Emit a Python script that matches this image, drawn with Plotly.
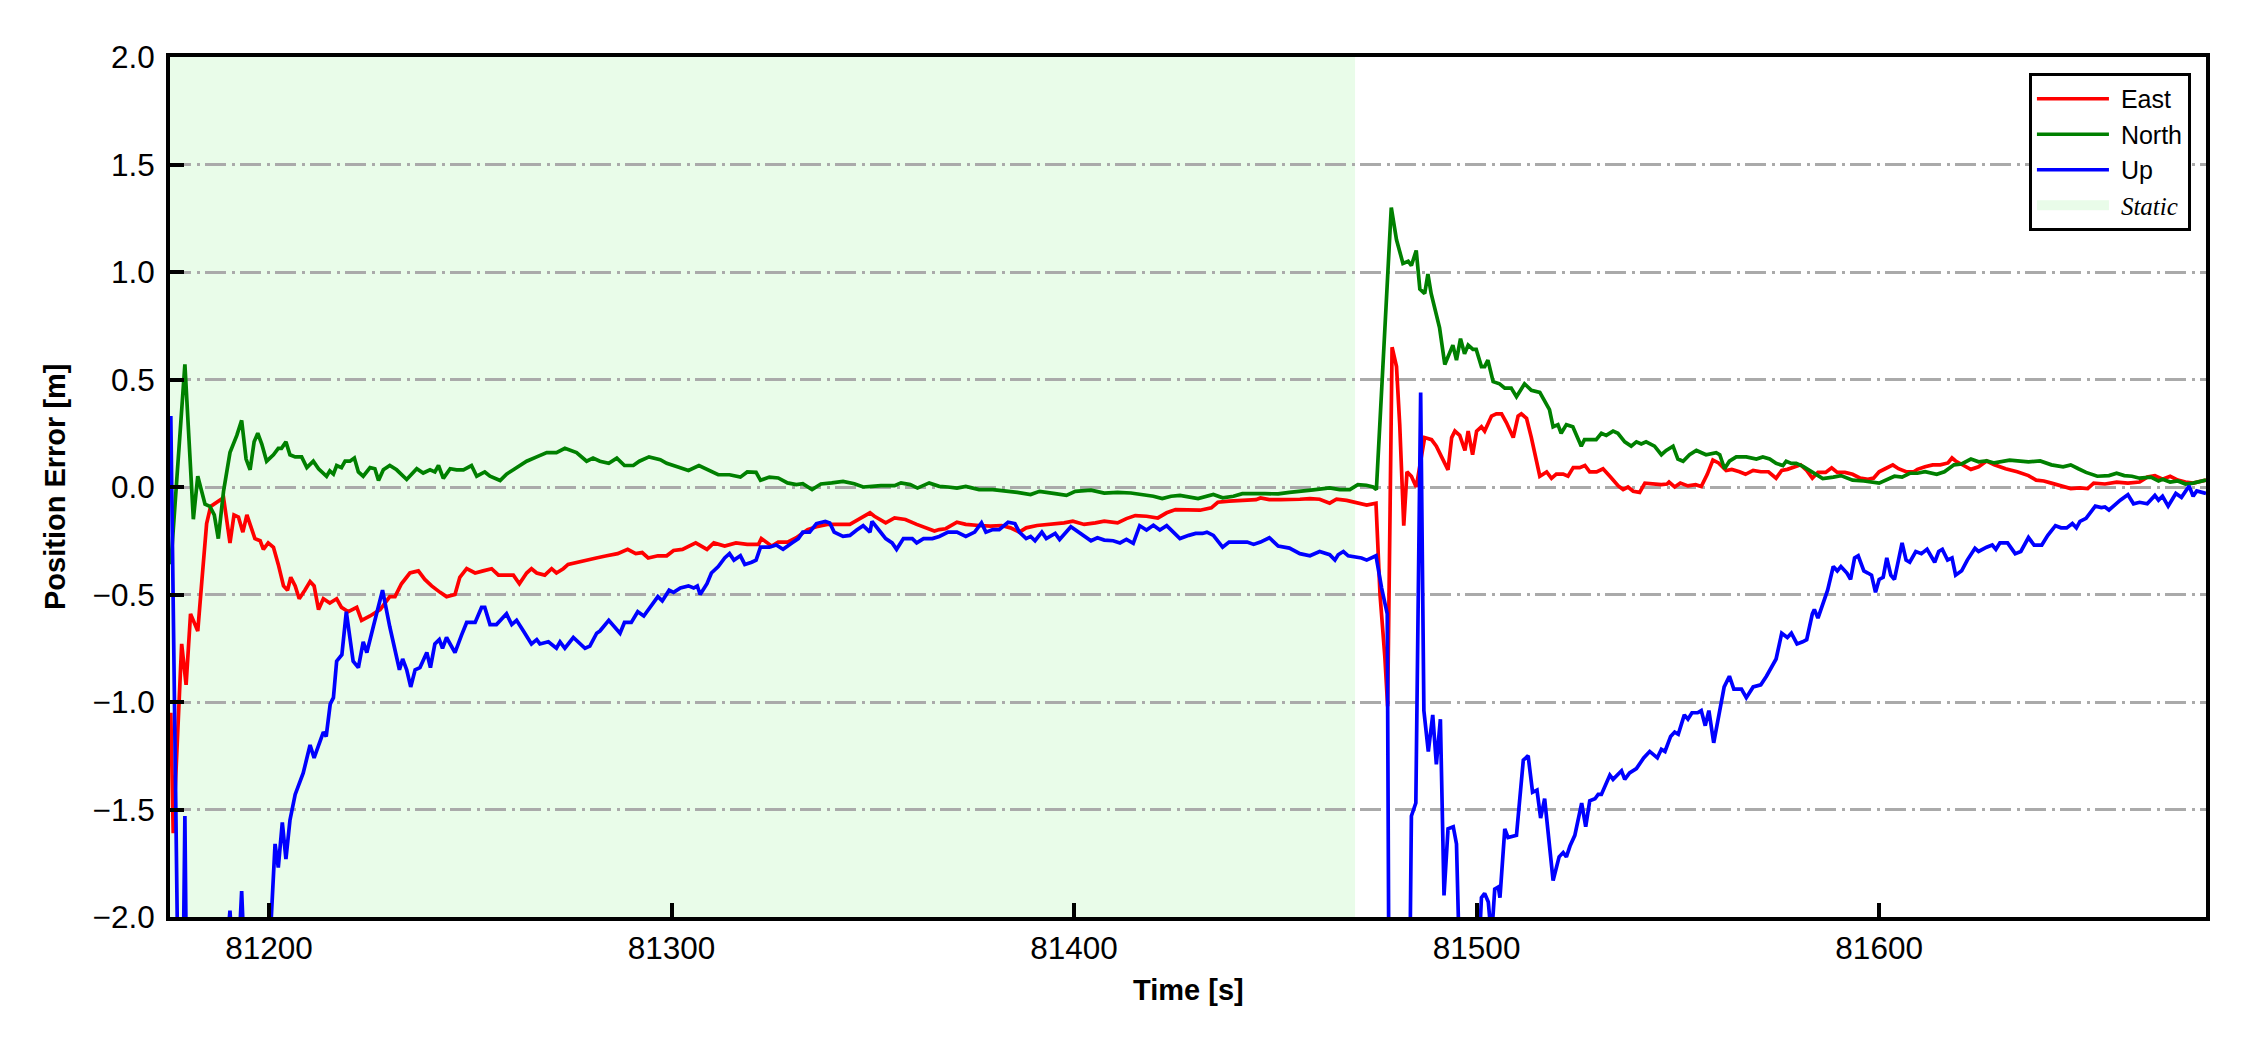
import plotly.graph_objects as go

# ---------------- data (time [s], error [m]) ----------------
EAST = [(81175.6,-1.05),(81176.2,-1.61),(81178.3,-0.73),(81179.4,-0.92),(81180.5,-0.59),(81182.3,-0.67),(81183.3,-0.44),(81184.5,-0.17),(81185.5,-0.09),(81187.0,-0.07),(81188.7,-0.05),(81190.3,-0.26),(81191.3,-0.13),(81192.4,-0.14),(81193.5,-0.21),(81194.5,-0.13),(81196.5,-0.24),(81197.8,-0.25),(81198.6,-0.29),(81199.8,-0.26),(81201.1,-0.28),(81202.3,-0.36),(81203.6,-0.46),(81204.6,-0.48),(81205.4,-0.42),(81206.5,-0.46),(81207.5,-0.52),(81208.9,-0.48),(81210.2,-0.44),(81211.2,-0.46),(81212.3,-0.57),(81213.5,-0.52),(81215.1,-0.54),(81216.8,-0.52),(81218.0,-0.56),(81219.7,-0.58),(81221.8,-0.56),(81223.0,-0.62),(81225.1,-0.60),(81227.6,-0.57),(81230.0,-0.51),(81231.3,-0.51),(81232.9,-0.45),(81235.0,-0.40),(81237.1,-0.39),(81238.7,-0.43),(81240.4,-0.46),(81242.5,-0.49),(81244.1,-0.51),(81246.2,-0.50),(81247.4,-0.42),(81249.1,-0.38),(81251.2,-0.40),(81253.2,-0.39),(81255.3,-0.38),(81257.0,-0.41),(81259.0,-0.41),(81260.7,-0.41),(81262.2,-0.45),(81264.0,-0.40),(81265.2,-0.38),(81266.5,-0.40),(81268.5,-0.41),(81270.2,-0.38),(81271.4,-0.40),(81273.1,-0.38),(81274.3,-0.36),(81276.4,-0.35),(81278.9,-0.34),(81281.3,-0.33),(81283.9,-0.32),(81286.6,-0.31),(81289.1,-0.29),(81291.1,-0.31),(81292.7,-0.305),(81294.2,-0.33),(81296.6,-0.32),(81298.8,-0.32),(81300.5,-0.295),(81302.7,-0.29),(81306.0,-0.26),(81308.8,-0.29),(81310.5,-0.26),(81313.2,-0.275),(81316.0,-0.26),(81318.8,-0.267),(81321.6,-0.267),(81322.3,-0.24),(81324.9,-0.275),(81326.5,-0.256),(81328.8,-0.256),(81331.0,-0.236),(81333.8,-0.198),(81336.0,-0.185),(81338.7,-0.174),(81342.1,-0.174),(81344.3,-0.174),(81347.1,-0.144),(81349.3,-0.12),(81350.4,-0.136),(81353.2,-0.167),(81355.4,-0.144),(81358.1,-0.151),(81360.9,-0.174),(81363.1,-0.19),(81365.3,-0.205),(81366.5,-0.198),(81368.1,-0.194),(81370.9,-0.164),(81373.1,-0.174),(81376.4,-0.179),(81379.2,-0.182),(81382.0,-0.179),(81384.2,-0.19),(81386.4,-0.21),(81388.1,-0.19),(81390.8,-0.179),(81394.2,-0.174),(81397.5,-0.167),(81399.7,-0.159),(81402.5,-0.174),(81405.3,-0.167),(81407.5,-0.159),(81410.8,-0.167),(81413.0,-0.147),(81415.2,-0.133),(81418.0,-0.136),(81420.8,-0.144),(81423.0,-0.12),(81425.2,-0.105),(81428.5,-0.108),(81431.3,-0.108),(81434.1,-0.097),(81435.7,-0.071),(81438.5,-0.066),(81441.8,-0.063),(81445.2,-0.059),(81446.3,-0.051),(81448.5,-0.059),(81451.3,-0.059),(81453.5,-0.059),(81456.1,-0.057),(81458.6,-0.054),(81461.0,-0.057),(81463.5,-0.075),(81465.2,-0.057),(81467.7,-0.062),(81470.2,-0.075),(81472.7,-0.084),(81475.0,-0.075),(81476.0,-0.50),(81477.2,-0.79),(81477.9,-1.02),(81479.0,0.65),(81480.1,0.56),(81480.9,0.29),(81481.9,-0.18),(81482.7,0.07),(81483.8,0.05),(81485.0,0.0),(81487.1,0.23),(81488.8,0.22),(81490.0,0.19),(81491.3,0.14),(81492.9,0.08),(81493.8,0.23),(81494.6,0.26),(81495.8,0.24),(81497.1,0.17),(81497.9,0.26),(81499.0,0.15),(81500.0,0.26),(81501.2,0.28),(81502.0,0.26),(81503.7,0.33),(81504.9,0.34),(81506.2,0.34),(81507.4,0.30),(81509.1,0.23),(81510.3,0.33),(81511.1,0.34),(81512.4,0.32),(81513.6,0.23),(81515.7,0.05),(81517.4,0.07),(81518.6,0.04),(81519.8,0.06),(81521.5,0.06),(81522.7,0.05),(81524.0,0.09),(81525.6,0.09),(81526.9,0.10),(81528.1,0.07),(81529.8,0.07),(81531.4,0.085),(81533.1,0.05),(81535.2,0.005),(81536.4,-0.012),(81537.6,0.0),(81538.9,-0.02),(81540.5,-0.025),(81541.8,0.018),(81544.4,0.011),(81545.9,0.011),(81547.3,0.014),(81547.8,0.023),(81549.2,0.0),(81550.6,0.018),(81552.5,0.005),(81554.4,0.011),(81555.8,0.002),(81557.3,0.059),(81558.7,0.125),(81560.1,0.112),(81562.0,0.077),(81563.4,0.082),(81565.3,0.071),(81566.8,0.059),(81568.7,0.077),(81570.6,0.071),(81572.5,0.071),(81574.4,0.041),(81575.8,0.077),(81577.2,0.082),(81579.1,0.094),(81580.5,0.103),(81582.0,0.077),(81583.4,0.041),(81584.8,0.068),(81586.7,0.068),(81588.2,0.089),(81589.6,0.068),(81591.5,0.068),(81593.4,0.059),(81595.3,0.041),(81597.2,0.036),(81598.6,0.041),(81600.0,0.071),(81601.5,0.085),(81603.4,0.103),(81604.8,0.085),(81606.7,0.071),(81608.6,0.071),(81609.5,0.082),(81611.4,0.094),(81613.3,0.103),(81615.2,0.103),(81617.1,0.112),(81618.1,0.135),(81619.0,0.121),(81621.0,0.10),(81622.8,0.082),(81624.7,0.094),(81626.7,0.121),(81628.6,0.103),(81631.4,0.085),(81634.3,0.071),(81637.1,0.053),(81639.0,0.032),(81640.9,0.028),(81642.8,0.018),(81645.2,0.005),(81647.6,-0.007),(81649.9,-0.004),(81651.8,-0.007),(81653.3,0.018),(81656.1,0.014),(81659.0,0.023),(81661.8,0.018),(81664.7,0.023),(81666.6,0.046),(81668.5,0.053),(81670.4,0.036),(81672.3,0.05),(81674.2,0.032),(81676.1,0.023),(81678.0,0.018),(81681.2,0.032)]

NORTH = [(81175.6,-0.36),(81179.1,0.57),(81181.2,-0.15),(81182.3,0.05),(81184.1,-0.08),(81185.3,-0.09),(81186.4,-0.13),(81187.4,-0.24),(81188.7,-0.02),(81190.3,0.16),(81192.0,0.24),(81193.2,0.31),(81194.3,0.13),(81195.3,0.08),(81196.3,0.21),(81197.2,0.25),(81198.2,0.20),(81199.4,0.12),(81201.1,0.15),(81202.3,0.18),(81203.1,0.18),(81204.2,0.21),(81205.2,0.15),(81206.5,0.14),(81208.1,0.14),(81209.4,0.09),(81211.0,0.12),(81212.3,0.085),(81214.3,0.05),(81215.1,0.075),(81216.0,0.06),(81216.8,0.10),(81218.0,0.09),(81218.9,0.12),(81220.1,0.12),(81221.2,0.135),(81222.2,0.07),(81223.4,0.05),(81225.1,0.09),(81226.3,0.085),(81227.2,0.03),(81228.4,0.08),(81230.0,0.10),(81231.7,0.08),(81234.2,0.035),(81236.7,0.085),(81238.3,0.065),(81240.0,0.08),(81241.2,0.07),(81242.1,0.10),(81243.3,0.04),(81245.0,0.085),(81246.6,0.08),(81248.3,0.08),(81250.3,0.10),(81251.6,0.05),(81253.6,0.07),(81254.9,0.05),(81257.4,0.03),(81259.0,0.06),(81260.7,0.08),(81262.3,0.10),(81264.0,0.12),(81266.5,0.14),(81269.0,0.16),(81271.4,0.16),(81273.5,0.18),(81276.4,0.16),(81278.9,0.12),(81280.5,0.135),(81282.2,0.12),(81284.4,0.11),(81286.4,0.134),(81288.3,0.10),(81290.5,0.10),(81292.0,0.12),(81294.4,0.14),(81297.2,0.127),(81298.8,0.11),(81301.6,0.093),(81304.2,0.077),(81306.8,0.10),(81308.8,0.083),(81311.6,0.057),(81314.4,0.057),(81317.1,0.046),(81318.8,0.07),(81321.0,0.068),(81322.1,0.031),(81324.3,0.046),(81326.5,0.042),(81328.8,0.019),(81331.0,0.011),(81332.6,0.015),(81334.9,-0.012),(81337.1,0.014),(81339.8,0.019),(81342.6,0.026),(81345.4,0.015),(81347.6,0.0),(81349.8,0.003),(81352.0,0.006),(81355.4,0.006),(81357.0,0.019),(81359.3,0.011),(81361.1,-0.005),(81364.0,0.019),(81366.5,0.003),(81368.7,0.0),(81370.9,-0.005),(81373.1,0.003),(81376.4,-0.012),(81379.8,-0.012),(81382.5,-0.017),(81385.9,-0.025),(81389.2,-0.035),(81391.4,-0.02),(81395.3,-0.031),(81398.1,-0.039),(81400.3,-0.02),(81404.2,-0.015),(81407.5,-0.028),(81410.8,-0.025),(81414.1,-0.028),(81417.5,-0.035),(81419.7,-0.043),(81421.9,-0.054),(81424.1,-0.043),(81426.3,-0.039),(81428.5,-0.048),(81430.8,-0.054),(81434.6,-0.035),(81436.9,-0.05),(81439.6,-0.043),(81441.8,-0.031),(81447.4,-0.031),(81450.7,-0.032),(81453.5,-0.025),(81456.1,-0.018),(81459.4,-0.013),(81463.5,-0.004),(81466.0,-0.012),(81468.5,-0.012),(81470.5,0.011),(81472.6,0.008),(81474.3,0.0),(81475.1,-0.012),(81478.8,1.30),(81480.1,1.15),(81481.7,1.04),(81483.0,1.05),(81483.8,1.03),(81485.0,1.10),(81485.9,0.92),(81487.1,0.90),(81487.9,0.99),(81488.7,0.90),(81490.0,0.79),(81490.8,0.74),(81492.1,0.57),(81494.1,0.66),(81495.0,0.59),(81496.0,0.69),(81497.0,0.62),(81497.9,0.66),(81499.1,0.64),(81499.9,0.64),(81501.2,0.56),(81502.0,0.56),(81502.8,0.59),(81504.1,0.49),(81505.7,0.48),(81507.0,0.46),(81508.6,0.46),(81509.9,0.42),(81511.9,0.48),(81513.6,0.45),(81515.7,0.44),(81516.9,0.40),(81518.1,0.36),(81519.0,0.28),(81520.2,0.29),(81521.0,0.25),(81522.3,0.29),(81523.9,0.28),(81525.2,0.23),(81526.0,0.19),(81526.8,0.22),(81528.5,0.22),(81529.7,0.22),(81531.0,0.25),(81532.2,0.24),(81533.9,0.26),(81535.1,0.25),(81536.8,0.21),(81538.4,0.19),(81539.7,0.21),(81540.9,0.20),(81542.1,0.21),(81544.2,0.19),(81545.9,0.15),(81547.1,0.17),(81548.8,0.19),(81550.0,0.13),(81551.3,0.12),(81552.9,0.15),(81554.6,0.17),(81557.0,0.15),(81559.5,0.16),(81560.4,0.15),(81561.6,0.085),(81562.8,0.12),(81564.5,0.14),(81567.0,0.14),(81569.5,0.13),(81571.1,0.14),(81572.8,0.13),(81574.4,0.11),(81576.1,0.10),(81576.9,0.12),(81578.2,0.11),(81579.4,0.11),(81581.1,0.096),(81582.7,0.078),(81584.4,0.054),(81586.0,0.039),(81588.6,0.046),(81590.5,0.053),(81593.4,0.032),(81596.2,0.028),(81600.0,0.018),(81601.9,0.032),(81603.8,0.05),(81605.7,0.046),(81607.6,0.064),(81609.5,0.064),(81611.4,0.071),(81614.3,0.059),(81616.2,0.071),(81618.6,0.103),(81620.5,0.107),(81622.8,0.13),(81624.7,0.117),(81626.7,0.121),(81628.6,0.112),(81632.4,0.125),(81634.3,0.121),(81637.1,0.117),(81640.0,0.121),(81642.8,0.103),(81645.7,0.094),(81647.6,0.103),(81649.5,0.085),(81651.4,0.068),(81654.2,0.05),(81657.1,0.053),(81659.0,0.064),(81660.9,0.053),(81662.8,0.05),(81664.7,0.041),(81667.5,0.046),(81669.4,0.028),(81670.4,0.036),(81672.3,0.023),(81674.2,0.028),(81676.1,0.014),(81678.0,0.018),(81681.2,0.032)]

UP = [(81175.6,0.33),(81177.6,-2.6),(81178.3,-2.9),(81179.1,-1.53),(81179.8,-2.9),(81181.0,-2.6),(81183.0,-2.5),(81185.0,-2.7),(81187.0,-2.5),(81189.5,-2.15),(81190.3,-1.97),(81191.0,-2.2),(81192.5,-2.15),(81193.2,-1.88),(81193.9,-2.2),(81196.0,-2.4),(81199.0,-2.3),(81200.3,-2.1),(81201.5,-1.66),(81202.3,-1.77),(81203.3,-1.56),(81204.2,-1.73),(81205.2,-1.55),(81206.5,-1.43),(81208.5,-1.33),(81210.2,-1.20),(81211.2,-1.26),(81213.5,-1.14),(81214.2,-1.16),(81215.2,-1.01),(81216.0,-0.98),(81216.8,-0.81),(81218.1,-0.78),(81219.2,-0.58),(81220.9,-0.81),(81222.2,-0.84),(81223.4,-0.72),(81224.3,-0.77),(81225.9,-0.65),(81228.2,-0.48),(81230.0,-0.65),(81231.3,-0.75),(81232.4,-0.85),(81233.2,-0.80),(81234.2,-0.85),(81235.2,-0.93),(81236.3,-0.85),(81237.5,-0.84),(81239.2,-0.77),(81240.1,-0.84),(81241.2,-0.73),(81242.3,-0.71),(81243.1,-0.75),(81244.1,-0.70),(81246.2,-0.77),(81247.8,-0.69),(81249.1,-0.63),(81251.2,-0.63),(81252.8,-0.56),(81253.6,-0.56),(81254.9,-0.64),(81256.5,-0.64),(81259.0,-0.59),(81260.3,-0.64),(81261.5,-0.62),(81263.2,-0.67),(81265.2,-0.73),(81266.5,-0.71),(81267.3,-0.73),(81269.4,-0.72),(81271.4,-0.75),(81272.3,-0.72),(81273.5,-0.75),(81275.6,-0.70),(81277.2,-0.73),(81278.5,-0.75),(81279.7,-0.74),(81281.4,-0.68),(81282.2,-0.67),(81284.4,-0.62),(81287.2,-0.68),(81288.3,-0.63),(81290.0,-0.63),(81291.6,-0.58),(81293.1,-0.60),(81295.0,-0.55),(81296.6,-0.51),(81297.7,-0.53),(81299.4,-0.48),(81300.5,-0.49),(81302.2,-0.47),(81304.2,-0.46),(81305.5,-0.47),(81306.4,-0.46),(81307.1,-0.50),(81308.8,-0.45),(81309.9,-0.40),(81311.6,-0.37),(81313.2,-0.33),(81314.4,-0.31),(81315.5,-0.34),(81317.1,-0.32),(81318.2,-0.36),(81319.9,-0.35),(81321.0,-0.34),(81322.1,-0.28),(81324.3,-0.28),(81326.0,-0.27),(81327.7,-0.29),(81329.9,-0.26),(81331.5,-0.24),(81332.6,-0.21),(81334.3,-0.21),(81336.0,-0.17),(81338.2,-0.16),(81339.3,-0.167),(81340.4,-0.21),(81342.6,-0.23),(81344.3,-0.225),(81346.0,-0.20),(81347.6,-0.18),(81349.3,-0.21),(81349.8,-0.16),(81351.5,-0.20),(81353.2,-0.24),(81354.8,-0.26),(81355.9,-0.29),(81357.6,-0.24),(81359.8,-0.24),(81360.9,-0.26),(81362.6,-0.24),(81364.8,-0.24),(81366.5,-0.23),(81368.7,-0.21),(81370.9,-0.21),(81373.1,-0.23),(81375.3,-0.21),(81377.0,-0.167),(81378.1,-0.21),(81379.8,-0.198),(81381.4,-0.198),(81383.6,-0.164),(81385.3,-0.17),(81386.4,-0.21),(81388.1,-0.24),(81389.2,-0.23),(81390.3,-0.25),(81392.0,-0.21),(81393.1,-0.24),(81395.3,-0.216),(81396.4,-0.244),(81399.2,-0.185),(81402.0,-0.22),(81404.2,-0.25),(81405.8,-0.236),(81407.5,-0.247),(81409.7,-0.25),(81411.4,-0.26),(81413.0,-0.244),(81414.7,-0.262),(81416.3,-0.18),(81418.0,-0.20),(81419.7,-0.178),(81421.3,-0.20),(81423.0,-0.18),(81424.7,-0.21),(81426.3,-0.24),(81428.5,-0.225),(81430.2,-0.216),(81431.9,-0.216),(81433.0,-0.21),(81434.6,-0.225),(81436.9,-0.28),(81438.5,-0.256),(81440.7,-0.256),(81443.0,-0.256),(81444.6,-0.267),(81446.3,-0.256),(81448.5,-0.236),(81450.7,-0.275),(81453.5,-0.284),(81456.1,-0.31),(81458.6,-0.32),(81461.0,-0.30),(81463.5,-0.315),(81464.8,-0.34),(81465.6,-0.315),(81466.9,-0.30),(81468.1,-0.32),(81469.8,-0.325),(81471.4,-0.33),(81472.7,-0.34),(81475.0,-0.32),(81476.4,-0.47),(81477.8,-0.59),(81478.5,-3.5),(81480.0,-4.0),(81482.0,-4.0),(81483.0,-3.0),(81483.8,-1.53),(81484.9,-1.47),(81486.1,0.44),(81486.9,-1.04),(81488.0,-1.23),(81489.1,-1.06),(81490.0,-1.29),(81491.0,-1.08),(81491.9,-1.90),(81492.9,-1.59),(81494.2,-1.58),(81495.0,-1.66),(81496.0,-2.4),(81498.0,-2.8),(81500.0,-2.4),(81501.2,-1.91),(81502.0,-1.89),(81502.9,-1.93),(81503.7,-2.1),(81504.5,-1.87),(81505.4,-1.86),(81505.8,-1.91),(81507.0,-1.59),(81507.8,-1.63),(81509.9,-1.62),(81511.6,-1.27),(81512.8,-1.25),(81513.9,-1.42),(81515.0,-1.41),(81515.9,-1.54),(81516.9,-1.45),(81519.0,-1.83),(81520.5,-1.72),(81521.5,-1.70),(81522.3,-1.72),(81523.2,-1.67),(81524.4,-1.62),(81526.1,-1.47),(81527.1,-1.58),(81528.1,-1.46),(81529.4,-1.45),(81530.2,-1.43),(81531.0,-1.43),(81533.1,-1.34),(81533.9,-1.36),(81536.0,-1.32),(81536.8,-1.36),(81538.0,-1.33),(81539.7,-1.31),(81541.5,-1.26),(81543.0,-1.23),(81544.9,-1.26),(81545.9,-1.22),(81546.8,-1.23),(81548.2,-1.16),(81549.2,-1.14),(81550.1,-1.15),(81551.6,-1.06),(81552.5,-1.08),(81553.5,-1.05),(81554.9,-1.05),(81555.8,-1.04),(81556.8,-1.11),(81557.7,-1.04),(81558.9,-1.19),(81560.1,-1.06),(81561.5,-0.93),(81562.8,-0.88),(81563.9,-0.94),(81565.8,-0.94),(81567.0,-0.98),(81568.7,-0.93),(81570.6,-0.92),(81572.0,-0.88),(81573.4,-0.83),(81574.4,-0.80),(81575.8,-0.68),(81577.2,-0.70),(81578.2,-0.68),(81579.6,-0.73),(81581.0,-0.72),(81582.0,-0.71),(81583.4,-0.59),(81583.9,-0.57),(81584.8,-0.61),(81585.8,-0.55),(81587.2,-0.48),(81588.6,-0.37),(81589.6,-0.39),(81590.5,-0.37),(81592.0,-0.40),(81592.9,-0.43),(81593.9,-0.33),(81594.8,-0.32),(81596.2,-0.39),(81597.2,-0.40),(81598.1,-0.41),(81599.1,-0.49),(81600.0,-0.43),(81601.0,-0.42),(81601.9,-0.33),(81602.9,-0.41),(81603.8,-0.43),(81605.7,-0.26),(81606.7,-0.34),(81607.6,-0.35),(81609.1,-0.30),(81610.5,-0.31),(81611.9,-0.29),(81613.8,-0.35),(81614.8,-0.30),(81615.7,-0.29),(81617.0,-0.34),(81618.1,-0.33),(81619.0,-0.41),(81620.5,-0.39),(81621.9,-0.34),(81623.8,-0.285),(81624.7,-0.30),(81626.7,-0.28),(81628.1,-0.27),(81629.0,-0.29),(81630.0,-0.26),(81631.9,-0.26),(81633.8,-0.31),(81635.2,-0.30),(81637.1,-0.235),(81638.5,-0.27),(81640.4,-0.27),(81641.9,-0.225),(81643.8,-0.18),(81645.2,-0.19),(81646.6,-0.19),(81648.0,-0.17),(81649.0,-0.19),(81649.9,-0.16),(81651.4,-0.146),(81653.7,-0.089),(81655.2,-0.096),(81656.1,-0.093),(81657.1,-0.107),(81658.5,-0.084),(81659.9,-0.061),(81661.8,-0.036),(81663.2,-0.078),(81664.7,-0.071),(81666.6,-0.078),(81668.5,-0.039),(81669.4,-0.061),(81670.4,-0.043),(81671.8,-0.089),(81673.7,-0.03),(81675.1,-0.048),(81677.0,0.005),(81678.0,-0.043),(81678.9,-0.018),(81681.2,-0.03)]

STATIC_START = 81175.4
STATIC_END = 81469.8
X_RANGE = [81175.4, 81681.2]
Y_RANGE = [-2.0, 2.0]
X_TICKS = [81200, 81300, 81400, 81500, 81600]
SERIES_NAMES = ["East", "North", "Up"]
SERIES_COLORS = ["#ff0000", "#008000", "#0000ff"]
STATIC_NAME = "Static"

FONT = "Liberation Sans, Arial, Helvetica, sans-serif"
SERIF = "Liberation Serif, Times New Roman, serif"
STATIC_FILL = "rgb(233,252,233)"

fig = go.Figure()

# static period (below gridlines)
fig.add_shape(type="rect", xref="x", yref="paper", x0=STATIC_START, x1=STATIC_END,
              y0=0, y1=1, fillcolor=STATIC_FILL, line=dict(width=0), layer="below")

for name, color, pts in zip(SERIES_NAMES, SERIES_COLORS, [EAST, NORTH, UP]):
    xs = [p[0] for p in pts]
    ys = [p[1] for p in pts]
    fig.add_trace(go.Scatter(x=xs, y=ys, mode="lines", name="\u00a0" + name,
                             line=dict(color=color, width=3.7)))

# legend entry for the static period (thick swatch)
fig.add_trace(go.Scatter(x=[None], y=[None], mode="lines",
                         line=dict(color=STATIC_FILL, width=20),
                         name="\u00a0<i><span style='font-family:%s'>%s</span></i>" % (SERIF, STATIC_NAME)))

fig.update_layout(
    width=2250, height=1050,
    margin=dict(l=170, r=44, t=57, b=133),
    paper_bgcolor="white", plot_bgcolor="white",
    font=dict(family=FONT, color="black"),
    showlegend=True,
    legend=dict(x=0.9926, y=0.9814, xanchor="right", yanchor="top",
                bgcolor="white", bordercolor="black", borderwidth=3,
                font=dict(family=FONT, size=25, color="black"),
                itemwidth=72, tracegroupgap=0),
    annotations=[
        dict(text="<b>Time [s]</b>", xref="paper", yref="paper", x=0.5, y=0,
             xanchor="center", yanchor="middle", yshift=-73, showarrow=False,
             font=dict(family=FONT, size=29, color="black")),
        dict(text="<b>Position Error [m]</b>", xref="paper", yref="paper", x=0, y=0.5,
             xanchor="center", yanchor="middle", xshift=-115, textangle=-90, showarrow=False,
             font=dict(family=FONT, size=29, color="black")),
    ],
)

fig.update_xaxes(range=X_RANGE, tickvals=X_TICKS, tickformat="d", ticks="inside", ticklen=14,
                 tickwidth=3.5, tickcolor="black", showline=True, mirror=True, linewidth=4,
                 linecolor="black", showgrid=False, zeroline=False,
                 tickfont=dict(family=FONT, size=31.5, color="black"))
fig.update_yaxes(range=Y_RANGE, dtick=0.5, tick0=0, tickformat=".1f", ticks="inside", ticklen=14,
                 tickwidth=3.5, tickcolor="black", showline=True, mirror=True, linewidth=4,
                 linecolor="black", showgrid=True, gridcolor="#aaaaaa", gridwidth=2.7,
                 griddash="21px,5.5px,3px,5.5px", zeroline=False, ticklabelstandoff=5,
                 tickfont=dict(family=FONT, size=31.5, color="black"))

# remove the default 8px page margin so the figure sits at the window origin
fig.write_html("out.html", config={"displayModeBar": False},
               post_script="document.body.style.margin='0';")
